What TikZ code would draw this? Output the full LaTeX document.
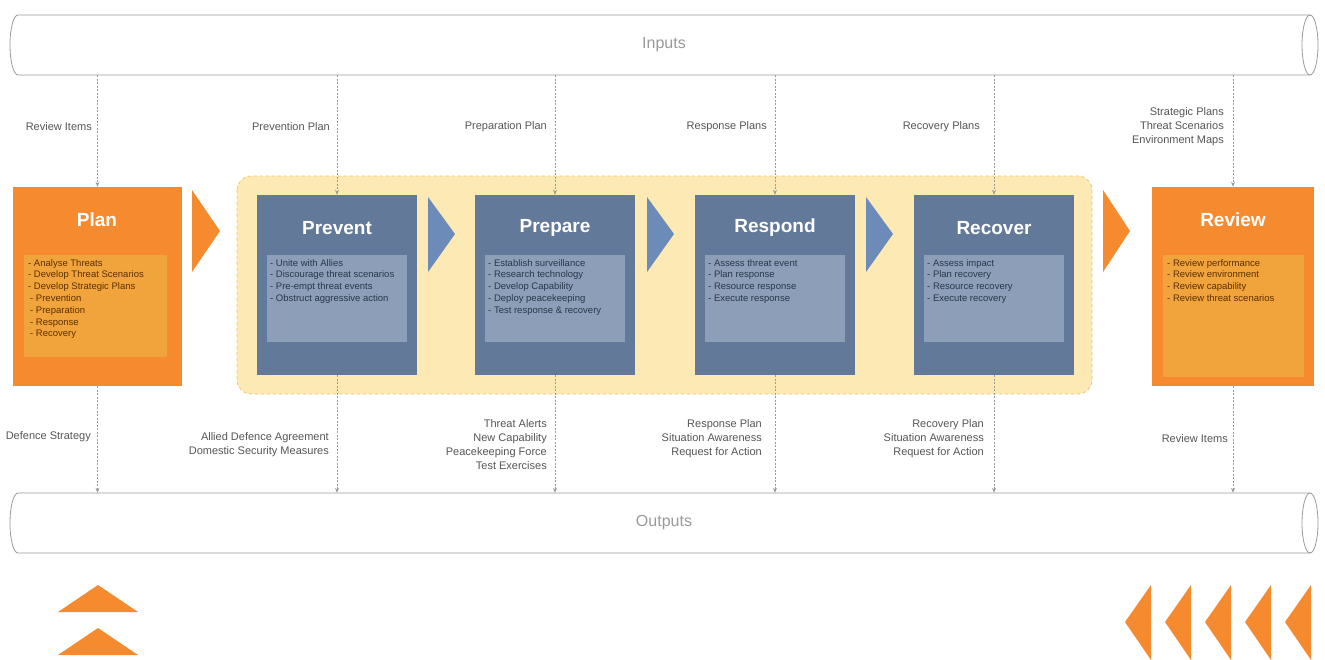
\documentclass[tikz,border=0pt]{standalone}
\usepackage{fontspec}
\setmainfont{Liberation Sans}
\usetikzlibrary{arrows.meta}
\definecolor{org}{HTML}{F58A2E}
\definecolor{orgin}{HTML}{F2A43C}
\definecolor{slate}{HTML}{63799A}
\definecolor{slatein}{HTML}{8D9FB8}
\definecolor{tri}{HTML}{6C8BB8}
\definecolor{yel}{HTML}{FDE9B4}
\definecolor{yelb}{HTML}{EFC36C}
\definecolor{lab}{HTML}{555555}
\definecolor{pipeline}{HTML}{9A9A9A}
\definecolor{orgtext}{HTML}{5A3000}
\definecolor{slatetext}{HTML}{27364A}
\tikzset{
  pipebody/.style={minimum width=1292, minimum height=60, inner sep=0, text=pipeline, font=\fontsize{16}{18}\selectfont},
  obox/.style={fill=org, inner sep=0, minimum width=169, minimum height=199},
  sbox/.style={fill=slate, inner sep=0, minimum width=160, minimum height=180},
  oin/.style={fill=orgin, inner sep=0, anchor=north west},
  sin/.style={fill=slatein, inner sep=0, anchor=north west},
  ttl/.style={text=white, font=\bfseries\fontsize{19}{22}\selectfont},
  olist/.style={anchor=north west, align=left, inner sep=0, text=orgtext, font=\fontsize{9.5}{11.8}\selectfont},
  slist/.style={anchor=north west, align=left, inner sep=0, text=slatetext, font=\fontsize{9.5}{11.8}\selectfont},
  lbl/.style={anchor=east, align=right, inner sep=0, text=lab, font=\fontsize{11}{14}\selectfont},
  conn/.style={draw=pipeline, dash pattern=on 2pt off 1.5pt, line width=0.8pt, -{Stealth[length=5pt,width=4pt]}},
}
\begin{document}
\begin{tikzpicture}[x=1pt,y=-1pt]
\useasboundingbox (0,0) rectangle (1325,660);
% pipes
\foreach \yy/\nm/\tx in {45/inp/Inputs, 523/outp/Outputs}{
  \fill[white] (18,\yy-30) rectangle (1310,\yy+30);
  \draw[pipeline, line width=0.8pt] (18,\yy-30) -- (1310,\yy-30) arc(-90:90:8 and 30) -- (18,\yy+30) arc(90:270:8 and 30);
  \draw[pipeline, line width=0.8pt] (1310,\yy-30) arc(270:90:8 and 30);
  \node[pipebody] (\nm) at (664,\yy) {\tx};
}
% yellow region
\draw[fill=yel, draw=yelb, dashed, line width=0.8pt, rounded corners=14pt] (237,176) rectangle (1092,394);
% Plan
\node[obox] (plan) at (97.5,286.5) {};
\node[oin, minimum width=143, minimum height=102] (planin) at (24,255) {};
\node[ttl] (plant) at (97,220) {Plan};
\node[olist] (planl) at (28,259) {- Analyse Threats\\- Develop Threat Scenarios\\- Develop Strategic Plans\\\hspace{2pt}- Prevention\\\hspace{2pt}- Preparation\\\hspace{2pt}- Response\\\hspace{2pt}- Recovery};
% Review
\node[obox, minimum width=162] (rev) at (1233,286.5) {};
\node[oin, minimum width=141, minimum height=122] (revin) at (1163,255) {};
\node[ttl] (revt) at (1233,220) {Review};
\node[olist] (revl) at (1167,259) {- Review performance\\- Review environment\\- Review capability\\- Review threat scenarios};
% blue boxes
\node[sbox] (prev) at (337,285) {};
\node[sin, minimum width=140, minimum height=87] (previn) at (267,255) {};
\node[ttl] (prevt) at (337,228) {Prevent};
\node[slist] (prevl) at (270,259) {- Unite with Allies\\- Discourage threat scenarios\\- Pre-empt threat events\\- Obstruct aggressive action};
\node[sbox] (prep) at (555,285) {};
\node[sin, minimum width=140, minimum height=87] (prepin) at (485,255) {};
\node[ttl] (prept) at (555,228) {Prepare};
\node[slist] (prepl) at (488,259) {- Establish surveillance\\- Research technology\\- Develop Capability\\- Deploy peacekeeping\\- Test response \& recovery};
\node[sbox] (resp) at (775,285) {};
\node[sin, minimum width=140, minimum height=87] (respin) at (705,255) {};
\node[ttl] (respt) at (775,228) {Respond};
\node[slist] (respl) at (708,259) {- Assess threat event\\- Plan response\\- Resource response\\- Execute response};
\node[sbox] (reco) at (994,285) {};
\node[sin, minimum width=140, minimum height=87] (recoin) at (924,255) {};
\node[ttl] (recot) at (994,228) {Recover};
\node[slist] (recol) at (927,259) {- Assess impact\\- Plan recovery\\- Resource recovery\\- Execute recovery};
% process triangles
\fill[org] (192,190) -- (220,231) -- (192,272) -- cycle;
\fill[tri] (428,197) -- (455,234) -- (428,272) -- cycle;
\fill[tri] (647,197) -- (674,234) -- (647,272) -- cycle;
\fill[tri] (866,197) -- (893,234) -- (866,272) -- cycle;
\fill[org] (1103,190) -- (1130,231) -- (1103,272) -- cycle;
% connectors top
\foreach \b in {plan,prev,prep,resp,reco,rev}{
  \draw[conn] (inp.south -| \b.north) -- (\b.north);
  \draw[conn] (\b.south) -- (outp.north -| \b.south);
}
% top labels
\node[lbl] (l1) at (92,127) {Review Items};
\node[lbl] (l2) at (330,127) {Prevention Plan};
\node[lbl] (l3) at (547,127) {Preparation Plan};
\node[lbl] (l4) at (767,127) {Response Plans};
\node[lbl] (l5) at (980,127) {Recovery Plans};
\node[lbl] (l6) at (1224,127) {Strategic Plans\\Threat Scenarios\\Environment Maps};
% bottom labels
\node[lbl] (b1) at (91,437) {Defence Strategy};
\node[lbl] (b2) at (329,445) {Allied Defence Agreement\\Domestic Security Measures};
\node[lbl] (b3) at (547,445) {Threat Alerts\\New Capability\\Peacekeeping Force\\Test Exercises};
\node[lbl] (b4) at (762,439) {Response Plan\\Situation Awareness\\Request for Action};
\node[lbl] (b5) at (984,439) {Recovery Plan\\Situation Awareness\\Request for Action};
\node[lbl] (b6) at (1228,439) {Review Items};
% decorations
\fill[org] (58,612) -- (98,585) -- (138,612) -- cycle;
\fill[org] (58,655) -- (98,628) -- (138,655) -- cycle;
\foreach \xx in {1125,1165,1205,1245,1285}{
  \fill[org] (\xx,622) -- (\xx+26,585) -- (\xx+26,660) -- cycle;
}
\end{tikzpicture}
\end{document}
